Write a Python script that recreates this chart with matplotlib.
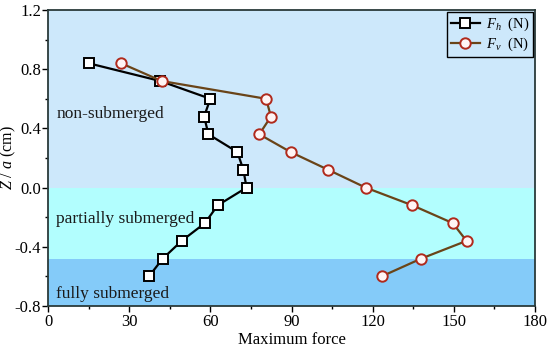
import matplotlib
matplotlib.use('Agg')
import matplotlib.pyplot as plt
import numpy as np
from matplotlib.ticker import MultipleLocator

plt.rcParams['font.family'] = ['Liberation Serif', 'DejaVu Serif']
plt.rcParams['mathtext.fontset'] = 'custom'
plt.rcParams['mathtext.it'] = 'Liberation Serif:italic'
plt.rcParams['mathtext.rm'] = 'Liberation Serif'

# datos
z_a = [0.84, 0.72, 0.60, 0.48, 0.36, 0.24, 0.12, 0.0, -0.12, -0.24, -0.36, -0.48, -0.60]
f_h = [15, 41.5, 60, 57.7, 59.3, 70, 72.2, 73.4, 62.7, 58, 49.4, 42.4, 37.3]
f_v = [27, 42, 80.6, 82.4, 78.1, 89.7, 103.6, 117.4, 134.7, 149.6, 154.7, 137.9, 123.3]

# limites de las zonas
zonas = [(0.0, 1.2, '#cde8fb'), (-0.48, 0.0, '#b2fefe'), (-0.8, -0.48, '#84cbf9')]
etiquetas = [('non-submerged', 0.50), ('partially submerged', -0.21), ('fully submerged', -0.72)]

fig = plt.figure(figsize=(5.5, 3.54), dpi=100)
ax = fig.add_axes([0.0873, 0.1356, 0.8854, 0.8362])

for lo, hi, c in zonas:
    ax.axhspan(lo, hi, color=c, lw=0, zorder=0)
for txt, y in etiquetas:
    ax.text(3, y, txt, fontsize=12.5, va='center', ha='left', color='#1a1a1a')

ax.plot(f_h, z_a, color='black', lw=1.6, marker='s', ms=6.5,
        mfc='white', mec='black', mew=1.4, label='$F_h$  (N)', zorder=3)
ax.plot(f_v, z_a, color='#6a4418', lw=1.6, marker='o', ms=7.5,
        mfc='#fff4f4', mec='#b02a1c', mew=1.4, label='$F_v$  (N)', zorder=3)

ax.set_xlim(0, 180)
ax.set_ylim(-0.8, 1.2)
ax.xaxis.set_major_locator(MultipleLocator(30))
ax.xaxis.set_minor_locator(MultipleLocator(15))
ax.yaxis.set_major_locator(MultipleLocator(0.4))
ax.yaxis.set_minor_locator(MultipleLocator(0.2))
ax.set_yticklabels([f'{v:.1f}' for v in ax.get_yticks()])
ax.tick_params(which='major', direction='out', length=4, width=1, labelsize=12, pad=1.5)
ax.tick_params(axis='y', which='major', pad=1)
ax.tick_params(which='minor', direction='out', length=2.5, width=1)
for s in ax.spines.values():
    s.set_linewidth(1.3)
    s.set_color('#2a3a3a')

ax.set_xlabel('Maximum force', fontsize=12, labelpad=2)
ax.set_ylabel('$Z$ / $a$ (cm)', fontsize=11.5)
ax.yaxis.set_label_coords(-0.062, 0.5)

leg = ax.legend(loc='upper right', fontsize=10.5, fancybox=False, framealpha=1,
                edgecolor='black', borderaxespad=0.15, handlelength=2.0,
                borderpad=0.25, labelspacing=0.2, handletextpad=0.4)
leg.get_frame().set_facecolor('#cde8fb')
leg.get_frame().set_linewidth(1.0)

plt.savefig('out.png', dpi=100)
